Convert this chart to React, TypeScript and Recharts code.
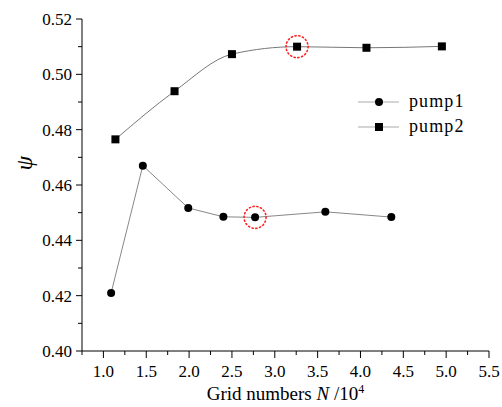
import React from "react";
import {
  ComposedChart,
  Line,
  XAxis,
  YAxis,
  Legend,
  ReferenceDot,
  Label,
} from "recharts";

// grid number N (x 10^4) and head coefficient psi
const pump1N = [1.09, 1.46, 1.99, 2.4, 2.77, 3.59, 4.36];
const pump1Psi = [0.421, 0.467, 0.4517, 0.4485, 0.4483, 0.4503, 0.4484];
const pump2N = [1.14, 1.83, 2.5, 3.26, 4.07, 4.95];
const pump2Psi = [0.4765, 0.4939, 0.5073, 0.51, 0.5096, 0.5101];

const xTicks = [0.75, 1, 1.25, 1.5, 1.75, 2, 2.25, 2.5, 2.75, 3, 3.25, 3.5, 3.75, 4, 4.25, 4.5, 4.75, 5, 5.25, 5.5];
const yTicks = [0.4, 0.41, 0.42, 0.43, 0.44, 0.45, 0.46, 0.47, 0.48, 0.49, 0.5, 0.51, 0.52];

// the two points ringed in red
const ringed = [
  { n: pump2N[3], psi: pump2Psi[3] },
  { n: pump1N[4], psi: pump1Psi[4] },
];

const pump1Data = pump1N.map((n, i) => ({ n, psi: pump1Psi[i] }));
const pump2Data = pump2N.map((n, i) => ({ n, psi: pump2Psi[i] }));

const FONT = "Liberation Serif, Times New Roman, serif";

const XTick = (props: any) => {
  const { x, y, payload } = props;
  const v = payload.value;
  const major = Math.abs(v * 2 - Math.round(v * 2)) < 1e-6;
  return (
    <g>
      <line x1={x} y1={y} x2={x} y2={y + (major ? 7 : 4)} stroke="#000" />
      {major && v > 0.9 && (
        <text x={x} y={y + 26} textAnchor="middle" fontSize={17} fontFamily={FONT} fill="#000">
          {v.toFixed(1)}
        </text>
      )}
    </g>
  );
};

const YTick = (props: any) => {
  const { x, y, payload } = props;
  const v = payload.value;
  const major = Math.round(v * 100) % 2 === 0;
  return (
    <g>
      <line x1={x} y1={y} x2={x - (major ? 6 : 4)} y2={y} stroke="#000" />
      {major && (
        <text x={x - 10} y={y + 6} textAnchor="end" fontSize={17} fontFamily={FONT} fill="#000">
          {v.toFixed(2)}
        </text>
      )}
    </g>
  );
};

const CircleDot = (props: any) => {
  const { cx, cy } = props;
  return <circle cx={cx} cy={cy} r={4} fill="#000" />;
};

const SquareDot = (props: any) => {
  const { cx, cy } = props;
  return <rect x={cx - 4} y={cy - 4} width={8} height={8} fill="#000" />;
};

const legendItems = [
  { name: "pump1", shape: "circle" },
  { name: "pump2", shape: "square" },
];

const LegendBox = () => (
  <svg width={120} height={50} style={{ display: "block" }}>
    {legendItems.map((item, i) => {
      const cy = 12 + i * 25;
      return (
        <g key={item.name}>
          <line x1={0} y1={cy} x2={41} y2={cy} stroke="#aaa" />
          {item.shape === "circle" ? (
            <circle cx={21} cy={cy} r={4} fill="#000" />
          ) : (
            <rect x={17} y={cy - 4} width={8} height={8} fill="#000" />
          )}
          <text x={51} y={cy + 5} fontSize={18} fontFamily={FONT} letterSpacing={1.1} fill="#000">
            {item.name}
          </text>
        </g>
      );
    })}
  </svg>
);

const App = () => {
  return (
    <div style={{ position: "absolute", left: 0, top: 0, background: "#fff" }}>
      <ComposedChart width={502} height={407} margin={{ top: 19, right: 13, left: 20, bottom: 0 }}>
        <XAxis
          type="number"
          dataKey="n"
          domain={[0.75, 5.5]}
          ticks={xTicks}
          interval={0}
          allowDataOverflow
          tickSize={0}
          tickMargin={0}
          tick={<XTick />}
          height={56}
          stroke="#000"
        >
          <Label
            content={(p: any) => {
              const vb = p.viewBox;
              return (
                <text
                  x={vb.x + vb.width / 2}
                  y={vb.y + 49}
                  textAnchor="middle"
                  fontSize={19}
                  fontFamily={FONT}
                  fill="#000"
                >
                  Grid numbers <tspan fontStyle="italic">N</tspan> /10
                  <tspan fontSize={12} dy={-7}>4</tspan>
                </text>
              );
            }}
          />
        </XAxis>
        <YAxis
          type="number"
          dataKey="psi"
          domain={[0.4, 0.52]}
          ticks={yTicks}
          interval={0}
          allowDataOverflow
          tickSize={0}
          tickMargin={0}
          tick={<YTick />}
          width={62}
          stroke="#000"
        >
          <Label
            content={(p: any) => {
              const vb = p.viewBox;
              const cx = vb.x + 4;
              const cy = vb.y + vb.height / 2 - 22;
              return (
                <text
                  x={cx}
                  y={cy}
                  transform={`rotate(-90 ${cx} ${cy})`}
                  textAnchor="middle"
                  dominantBaseline="central"
                  fontSize={23}
                  fontStyle="italic"
                  fontFamily={FONT}
                  fill="#000"
                >
                  ψ
                </text>
              );
            }}
          />
        </YAxis>
        <Legend
          layout="vertical"
          align="center"
          verticalAlign="middle"
          content={() => <LegendBox />}
          wrapperStyle={{ left: 358, top: 90, width: "auto" }}
        />
        <Line
          data={pump1Data}
          dataKey="psi"
          name="pump1"
          type="linear"
          stroke="#888"
          strokeWidth={1}
          dot={<CircleDot />}
          activeDot={false}
          isAnimationActive={false}
        />
        <Line
          data={pump2Data}
          dataKey="psi"
          name="pump2"
          type="monotone"
          stroke="#777"
          strokeWidth={1}
          dot={<SquareDot />}
          activeDot={false}
          isAnimationActive={false}
        />
        {ringed.map((p, i) => (
          <ReferenceDot
            key={i}
            x={p.n}
            y={p.psi}
            r={11}
            fill="none"
            stroke="#f22"
            strokeWidth={1.6}
            strokeDasharray="1.2 2.6"
            strokeLinecap="round"
          />
        ))}
      </ComposedChart>
    </div>
  );
};

export default App;
